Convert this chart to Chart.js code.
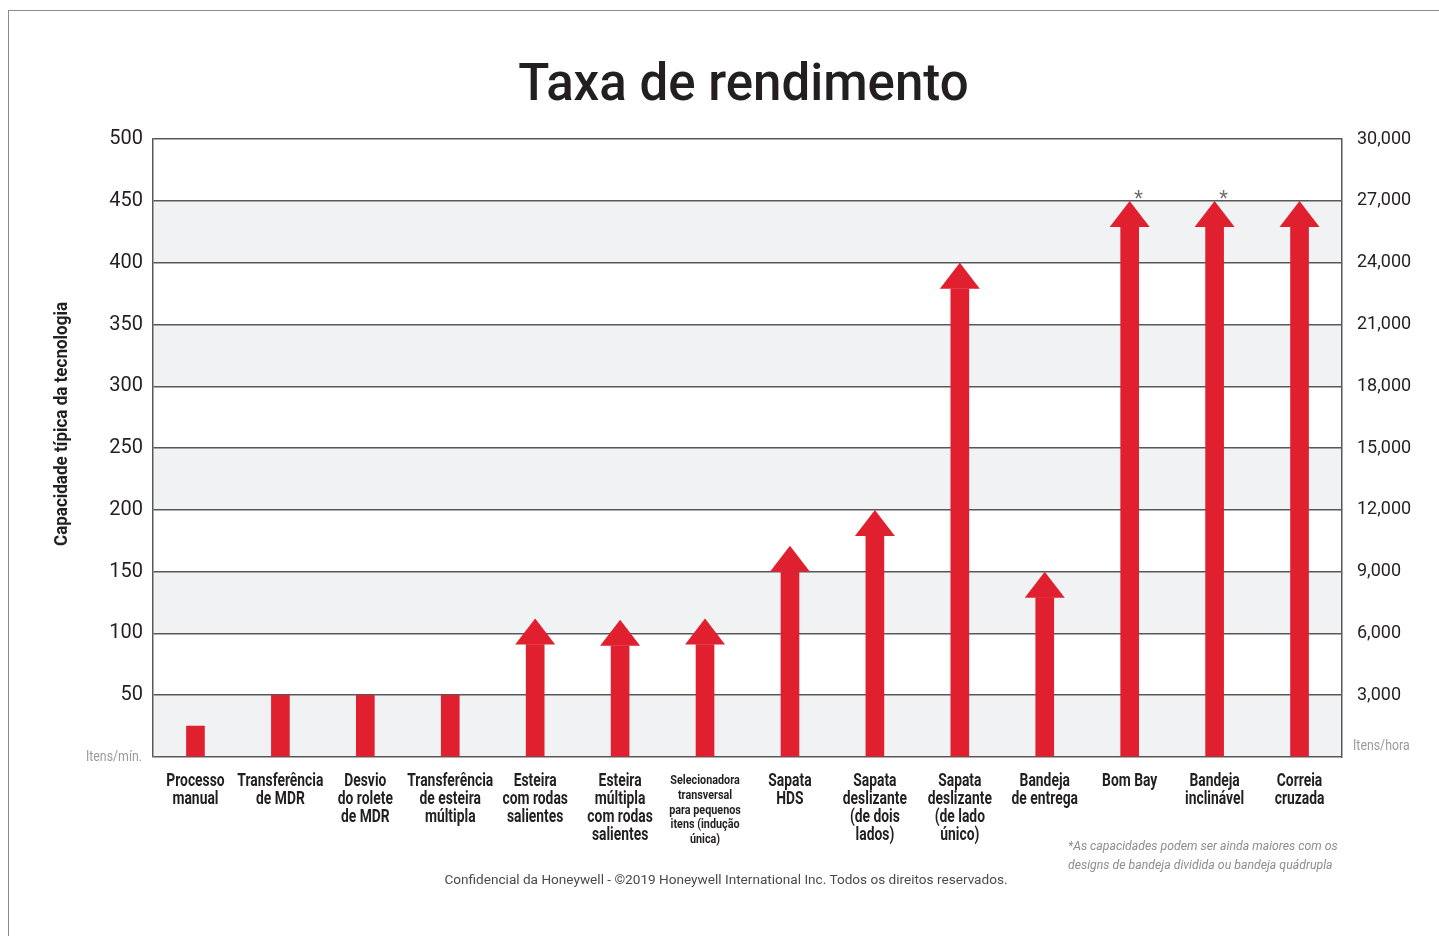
<!DOCTYPE html>
<html lang="pt">
<head>
<meta charset="utf-8">
<title>Taxa de rendimento</title>
<script src="https://cdn.jsdelivr.net/npm/chart.js@4.4.1/dist/chart.umd.min.js"></script>
<style>
  html, body { margin: 0; padding: 0; background: #fff; }
  #wrap { position: relative; width: 1439px; height: 936px; overflow: hidden; }
  #frame { position: absolute; left: 8px; top: 10px; right: -2px; bottom: -2px;
           border-left: 1.5px solid #8a8a8a; border-top: 1.5px solid #8a8a8a; }
  canvas { position: absolute; left: 0; top: 0; }
  .note { position: absolute; font-family: Roboto, sans-serif; font-style: italic; font-size: 13.5px;
          color: #8d8d8f; line-height: 19px; left: 1068px; top: 836px; white-space: nowrap;
          transform: scaleX(0.91); transform-origin: 0 0; }
  .foot { position: absolute; font-family: Roboto, 'Noto Sans', sans-serif; font-size: 13.6px; color: #4a4a4c;
          left: 0; width: 1452px; text-align: center; top: 871px; }
</style>
</head>
<body>
<div id="wrap">
  <div id="frame"></div>
  <canvas id="chart" width="1439" height="936"></canvas>
  <div class="note">*As capacidades podem ser ainda maiores com os<br>designs de bandeja dividida ou bandeja quádrupla</div>
  <div class="foot">Confidencial da Honeywell - ©2019 Honeywell International Inc. Todos os direitos reservados.</div>
</div>
<script>
// Categorias (tecnologias)
const categories = [
  ['Processo', 'manual'],
  ['Transferência', 'de MDR'],
  ['Desvio', 'do rolete', 'de MDR'],
  ['Transferência', 'de esteira', 'múltipla'],
  ['Esteira', 'com rodas', 'salientes'],
  ['Esteira', 'múltipla', 'com rodas', 'salientes'],
  ['Selecionadora', 'transversal', 'para pequenos', 'itens (indução', 'única)'],
  ['Sapata', 'HDS'],
  ['Sapata', 'deslizante', '(de dois', 'lados)'],
  ['Sapata', 'deslizante', '(de lado', 'único)'],
  ['Bandeja', 'de entrega'],
  ['Bom Bay'],
  ['Bandeja', 'inclinável'],
  ['Correia', 'cruzada']
];

// Capacidade típica (itens/min)
const capacity = [25, 50, 50, 50, 112, 111, 112, 171, 200, 400, 150, 450, 450, 450];

// Seta = capacidade "ou mais"
const hasArrow = [false, false, false, false, true, true, true, true, true, true, true, true, true, true];

// Notas (asterisco)
const notes = ['', '', '', '', '', '', '', '', '', '', '', '*', '*', ''];

const RED = '#e01f2f';
const INK = '#231f20';
const GRID = '#58585a';
const BAND = '#f1f2f4';
const SQUEEZE = 0.77;   // imitar fonte condensada

// Faixas cinzas alternadas
const bandsPlugin = {
  id: 'bands',
  beforeDraw(chart) {
    const { ctx, chartArea, scales } = chart;
    const y = scales.y;
    ctx.save();
    ctx.fillStyle = BAND;
    for (let v = 0; v < y.max; v += 100) {
      const top = y.getPixelForValue(v + 50);
      const bot = y.getPixelForValue(v);
      ctx.fillRect(chartArea.left, top, chartArea.right - chartArea.left, bot - top);
    }
    ctx.restore();
  }
};

// Setas no topo das barras
const HEAD_W = 40, HEAD_H = 26;
const arrowPlugin = {
  id: 'arrows',
  afterDatasetsUpdate(chart) {
    const meta = chart.getDatasetMeta(0);
    meta.data.forEach((el, i) => {
      el.$tip = el.y;
      if (hasArrow[i]) el.y = el.y + HEAD_H;
    });
  },
  afterDatasetsDraw(chart) {
    const { ctx } = chart;
    const meta = chart.getDatasetMeta(0);
    ctx.save();
    meta.data.forEach((el, i) => {
      if (hasArrow[i]) {
        ctx.fillStyle = RED;
        ctx.beginPath();
        ctx.moveTo(el.x, el.$tip);
        ctx.lineTo(el.x + HEAD_W / 2, el.$tip + HEAD_H);
        ctx.lineTo(el.x - HEAD_W / 2, el.$tip + HEAD_H);
        ctx.closePath();
        ctx.fill();
      }
      if (notes[i]) {
        ctx.fillStyle = '#6d6e70';
        ctx.font = '20px Roboto, sans-serif';
        ctx.textAlign = 'center';
        ctx.textBaseline = 'alphabetic';
        ctx.fillText(notes[i], el.x + 9, el.$tip + 4);
      }
    });
    ctx.restore();
  }
};

// Textos condensados: rótulos das categorias, título do eixo e unidades
function squeezedText(ctx, text, x, y, sx, rot) {
  ctx.save();
  ctx.translate(x, y);
  if (rot) ctx.rotate(rot);
  ctx.scale(sx, 1);
  ctx.fillText(text, 0, 0);
  ctx.restore();
}

const labelsPlugin = {
  id: 'labels',
  afterDraw(chart) {
    const { ctx, chartArea, scales } = chart;
    const x = scales.x;
    ctx.save();
    ctx.textAlign = 'center';
    ctx.textBaseline = 'middle';
    ctx.fillStyle = INK;
    categories.forEach((lines, i) => {
      const px = x.getPixelForTick(i);
      const small = i === 6;
      ctx.font = small ? 'bold 13.5px Roboto, sans-serif' : 'bold 18px Roboto, sans-serif';
      const lh = small ? 14.6 : 18;
      lines.forEach((t, k) => {
        squeezedText(ctx, t, px, chartArea.bottom + 24 + k * lh, small ? 0.8 : SQUEEZE);
      });
    });

    // título do eixo Y
    ctx.font = 'bold 18.5px Roboto, sans-serif';
    squeezedText(ctx, 'Capacidade típica da tecnologia', 62, 424, 0.92, -Math.PI / 2);

    // unidades
    ctx.fillStyle = '#9a9a9c';
    ctx.font = '14px Roboto, sans-serif';
    ctx.textAlign = 'right';
    squeezedText(ctx, 'Itens/mín.', 142, scales.y.getPixelForValue(0), 0.88);
    ctx.textAlign = 'left';
    squeezedText(ctx, 'Itens/hora', 1353, scales.y.getPixelForValue(0) - 11, 0.88);
    ctx.restore();
  }
};

new Chart(document.getElementById('chart'), {
  type: 'bar',
  data: {
    labels: categories,
    datasets: [{
      data: capacity,
      backgroundColor: RED,
      barThickness: 18,
      borderWidth: 0
    }]
  },
  options: {
    responsive: false,
    animation: false,
    events: [],
    layout: { padding: { left: 48, right: 0, top: 0, bottom: 0 } },
    plugins: {
      legend: { display: false },
      tooltip: { enabled: false },
      title: {
        display: true,
        text: 'Taxa de rendimento',
        color: INK,
        font: { family: 'Roboto, sans-serif', size: 51, weight: '500', lineHeight: 1.2 },
        padding: { top: 57, bottom: 21 }
      }
    },
    scales: {
      x: {
        grid: { display: false },
        border: { display: false },
        afterFit(scale) { scale.height = 179; },
        ticks: { display: false, autoSkip: false }
      },
      y: {
        position: 'left',
        min: 0,
        max: 500,
        afterFit(scale) { scale.width = 105; },
        grid: { color: GRID, lineWidth: 1.5, drawTicks: false },
        border: { display: true, color: GRID, width: 1.5 },
        ticks: {
          stepSize: 50,
          padding: 10,
          callback: v => v === 0 ? '' : v,
          color: INK,
          font: { family: 'Roboto, sans-serif', size: 20 }
        }
      },
      y2: {
        position: 'right',
        min: 0,
        max: 30000,
        afterFit(scale) { scale.width = 97; },
        grid: { display: false, drawTicks: false },
        border: { display: true, color: GRID, width: 1.5 },
        ticks: {
          stepSize: 3000,
          padding: 15,
          callback: v => v === 0 ? '' : v.toLocaleString('en-US'),
          color: INK,
          font: { family: 'Roboto, sans-serif', size: 18 }
        }
      }
    }
  },
  plugins: [bandsPlugin, arrowPlugin, labelsPlugin]
});
</script>
</body>
</html>
